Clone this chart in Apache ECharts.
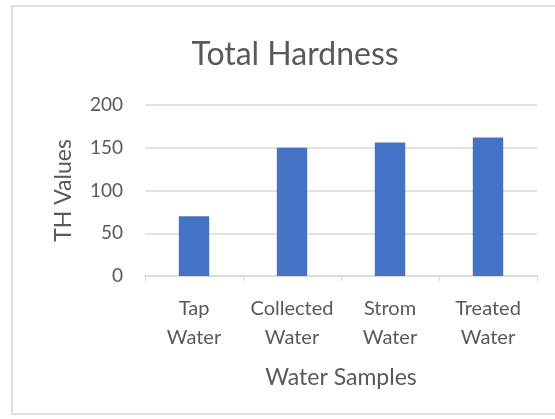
<!DOCTYPE html>
<html>
<head>
<meta charset="utf-8">
<script src="https://cdn.jsdelivr.net/npm/echarts@6/dist/echarts.min.js"></script>
<style>
  html, body { margin: 0; padding: 0; background: #ffffff; }
  #chart { width: 555px; height: 419px; }
</style>
</head>
<body>
<div id="chart"></div>
<script>
// Water sample categories and their total hardness readings
const categories = ['Tap\nWater', 'Collected\nWater', 'Strom\nWater', 'Treated\nWater'];
const thValues = [70, 150, 156, 162];
const yTicks = { min: 0, max: 200, step: 50 };

const textColor = '#595959';
const gridColor = '#d9d9d9';
const fontFamily = 'Lato, "Open Sans", sans-serif';

const chart = echarts.init(document.getElementById('chart'), null, { renderer: 'canvas' });

chart.setOption({
  backgroundColor: '#ffffff',
  animation: false,
  title: {
    text: 'Total Hardness',
    left: 290,
    top: 34,
    textAlign: 'center',
    textStyle: { color: textColor, fontFamily: fontFamily, fontSize: 32, fontWeight: 'normal' }
  },
  // chart-area frame
  graphic: [{
    type: 'rect',
    shape: { x: 12, y: 6, width: 560, height: 408 },
    style: { fill: 'none', stroke: '#d4d4d4', lineWidth: 1.5 },
    silent: true
  }],
  grid: { left: 145, right: 18, top: 105, bottom: 143, containLabel: false },
  xAxis: {
    type: 'category',
    data: categories,
    name: 'Water Samples',
    nameLocation: 'middle',
    nameGap: 90,
    nameTextStyle: { color: textColor, fontFamily: fontFamily, fontSize: 23 },
    axisLine: { lineStyle: { color: gridColor, width: 1.5 } },
    axisTick: { show: true, length: 5, lineStyle: { color: gridColor } },
    axisLabel: { interval: 0, color: textColor, fontFamily: fontFamily, fontSize: 20, lineHeight: 29, margin: 18 }
  },
  yAxis: {
    type: 'value',
    min: yTicks.min,
    max: yTicks.max,
    interval: yTicks.step,
    name: 'TH Values',
    nameLocation: 'middle',
    nameGap: 70,
    nameRotate: 90,
    nameTextStyle: { color: textColor, fontFamily: fontFamily, fontSize: 23 },
    axisLine: { show: false },
    axisTick: { show: false },
    axisLabel: { color: textColor, fontFamily: fontFamily, fontSize: 19, margin: 22 },
    splitLine: { lineStyle: { color: gridColor, width: 1.5 } }
  },
  series: [{
    type: 'bar',
    data: thValues,
    barWidth: '31%',
    itemStyle: { color: '#4472c4' }
  }]
});
</script>
</body>
</html>
